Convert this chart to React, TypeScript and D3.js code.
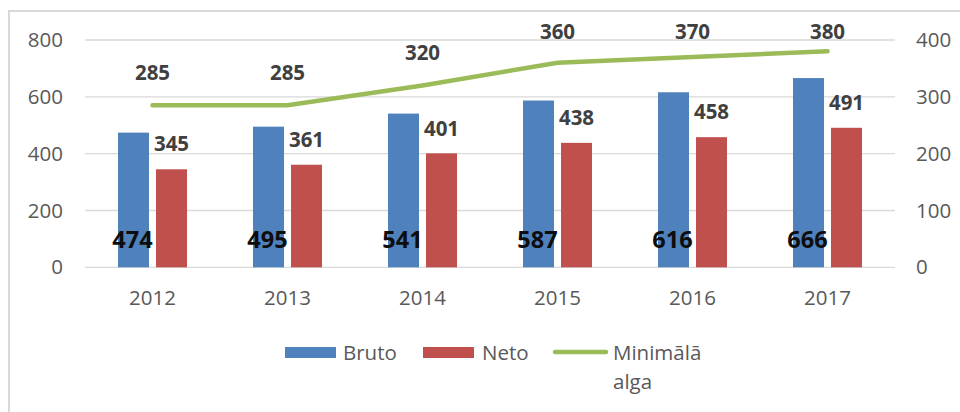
import React from "react";
import * as d3 from "d3";

const years = ["2012", "2013", "2014", "2015", "2016", "2017"];
const bruto = [474, 495, 541, 587, 616, 666];
const neto = [345, 361, 401, 438, 458, 491];
const minAlga = [285, 285, 320, 360, 370, 380];
const leftTicks = [0, 200, 400, 600, 800];
const rightTicks = [0, 100, 200, 300, 400];

const W = 960;
const H = 412;
const FONT = "'Open Sans', 'Liberation Sans', sans-serif";
const FS = 20.5;

export default function App() {
  const x = d3.scaleBand<string>().domain(years).range([85, 895]).paddingInner(0).paddingOuter(0);
  const yL = d3.scaleLinear().domain([0, 800]).range([267.3, 40]);
  const yR = d3.scaleLinear().domain([0, 400]).range([267.3, 40]);
  const barW = 31;
  const gap = 7;
  const line = d3
    .line<number>()
    .x((_, i) => (x(years[i]) as number) + x.bandwidth() / 2)
    .y((d) => yR(d))
    .curve(d3.curveLinear);

  return (
    <svg width={W} height={H} style={{ position: "absolute", left: 0, top: 0, background: "#fff" }}>
      <rect x={0} y={0} width={W} height={H} fill="#fff" />
      <line x1={9} x2={9} y1={11} y2={H} stroke="#d9d9d9" strokeWidth={2} />
      <line x1={8} x2={W} y1={11} y2={11} stroke="#d9d9d9" strokeWidth={2} />
      {leftTicks.map((t) => (
        <g key={"g" + t}>
          <line x1={85} x2={895} y1={yL(t)} y2={yL(t)} stroke="#d9d9d9" strokeWidth={1.3} />
          <text x={63} y={yL(t)} dy="0.35em" textAnchor="end" fontFamily={FONT} fontSize={FS} fill="#595959">
            {t}
          </text>
        </g>
      ))}
      {rightTicks.map((t) => (
        <text key={"r" + t} x={916} y={yR(t)} dy="0.35em" textAnchor="start" fontFamily={FONT} fontSize={FS} fill="#595959">
          {t}
        </text>
      ))}
      {years.map((yr, i) => {
        const cx = (x(yr) as number) + x.bandwidth() / 2;
        const bx = cx - gap / 2 - barW;
        const nx = cx + gap / 2;
        return (
          <g key={yr}>
            <rect x={bx} y={yL(bruto[i])} width={barW} height={yL(0) - yL(bruto[i])} fill="#4F81BD" />
            <rect x={nx} y={yL(neto[i])} width={barW} height={yL(0) - yL(neto[i])} fill="#C0504D" />
            <text x={cx} y={298} dy="0.35em" textAnchor="middle" fontFamily={FONT} fontSize={FS} fill="#595959">
              {yr}
            </text>
          </g>
        );
      })}
      <path d={line(minAlga) || ""} fill="none" stroke="#9BBB59" strokeWidth={4.5} strokeLinecap="round" />
      {years.map((yr, i) => {
        const cx = (x(yr) as number) + x.bandwidth() / 2;
        const bcx = cx - gap / 2 - barW / 2;
        const ncx = cx + gap / 2 + barW / 2;
        return (
          <g key={"l" + yr}>
            <text x={cx} y={Math.max(yR(minAlga[i]) - 33, 32)} dy="0.35em" textAnchor="middle" fontFamily={FONT} fontSize={20.5} fontWeight="bold" fill="#404040">
              {minAlga[i]}
            </text>
            <text x={ncx} y={yL(neto[i]) - 25} dy="0.35em" textAnchor="middle" fontFamily={FONT} fontSize={20.5} fontWeight="bold" fill="#404040">
              {neto[i]}
            </text>
            <text x={bcx - 1} y={240} dy="0.35em" textAnchor="middle" fontFamily={FONT} fontSize={23.5} fontWeight="bold" fill="#0d0d0d">
              {bruto[i]}
            </text>
          </g>
        );
      })}
      <g fontFamily={FONT} fontSize={FS} fill="#595959">
        <rect x={285} y={347} width={51} height={11} fill="#4F81BD" />
        <text x={343} y={352.5} dy="0.35em">Bruto</text>
        <rect x={423} y={347} width={51} height={11} fill="#C0504D" />
        <text x={482} y={352.5} dy="0.35em">Neto</text>
        <line x1={555} x2={606} y1={352} y2={352} stroke="#9BBB59" strokeWidth={4.5} strokeLinecap="round" />
        <text x={613} y={352.5} dy="0.35em">Minimālā</text>
        <text x={613} y={382} dy="0.35em">alga</text>
      </g>
    </svg>
  );
}
